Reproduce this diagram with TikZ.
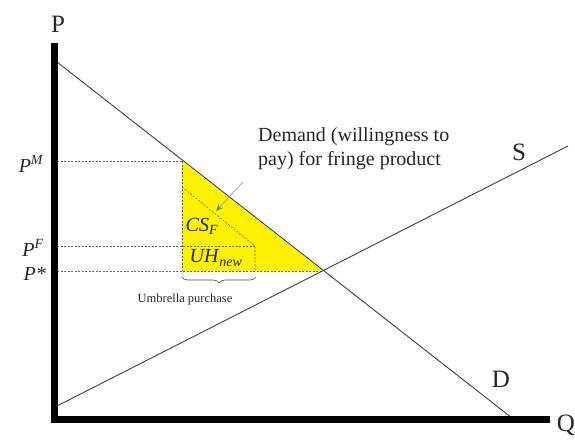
\documentclass[tikz,border=0pt]{standalone}
\usepackage{fontspec}
\setmainfont{Liberation Serif}
\newfontfamily\tnr{Liberation Serif}
\usetikzlibrary{arrows.meta,decorations.pathreplacing}
\begin{document}
\begin{tikzpicture}[x=1pt,y=-1pt,
  axis/.style={line width=7pt,line join=miter},
  curve/.style={line width=0.9pt,draw=black!75},
  guide/.style={draw=black!60,line width=0.6pt,dash pattern=on 2pt off 1.5pt},
  lab/.style={font=\tnr\fontsize{20}{24}\selectfont,inner sep=0pt,text=black!85},
  big/.style={font=\tnr\fontsize{25}{28}\selectfont,inner sep=0pt,text=black!85},
  ]
\useasboundingbox (0,0) rectangle (575,439);
% key points
\coordinate (top) at (54,43);
\coordinate (O) at (54,419);
\coordinate (right) at (550,419);
\coordinate (dA) at (57,62);
\coordinate (dB) at (512,418);
\coordinate (sA) at (57,406);
\coordinate (sB) at (568,146);
\coordinate (E) at (323,271);
\coordinate (M) at (182,161);
\coordinate (Mb) at (182,271);
\coordinate (C1) at (182,187);
\coordinate (C2) at (255,246);
\coordinate (C3) at (255,271);
\coordinate (yM) at (57,161);
\coordinate (yF) at (57,246);
\coordinate (yS) at (57,271);
% yellow area
\fill[yellow] (M) -- (Mb) -- (E) -- cycle;
% guides
\draw[guide] (yM) -- (M);
\draw[guide] (yF) -- (C2);
\draw[guide] (yS) -- (E);
\draw[guide] (M) -- (Mb);
\draw[guide] (C1) -- (C2) -- (C3);
% curves
\draw[curve] (dA) -- (dB);
\draw[curve] (sA) -- (sB);
% axes
\draw[axis] (top) -- (O) -- (right);
% labels
\node[big] (P) at (58,24) {P};
\node[big] (Q) at (566,425) {Q};
\node[big] (S) at (519,152) {S};
\node[big] (D) at (501,379) {D};
\node[lab,anchor=east] (PM) at (44,164) {\textit{P}\textsuperscript{\textit{M}}};
\node[lab,anchor=east] (PF) at (44,248) {\textit{P}\textsuperscript{\textit{F}}};
\node[lab,anchor=east] (Ps) at (46,274) {\textit{P*}};
\node[lab] (CS) at (202,226) {\textit{CS}\textsubscript{\textit{F}}};
\node[lab] (UH) at (216,258) {\textit{UH}\textsubscript{\textit{new}}};
\node[lab,align=left,anchor=north west] (dem) at (258,127) {Demand (willingness to\\pay) for fringe product};
\node[inner sep=0pt,font=\tnr\fontsize{12.5}{14}\selectfont,text=black!85] (umb) at (185,299) {Umbrella purchase};
% arrow
\coordinate (arS) at (243,182);
\coordinate (arE) at (216,211);
\draw[draw=blue!30!gray!60,line width=0.7pt,-{Stealth[length=7pt,width=6pt,color=green!50!black!70]}] (arS) -- (arE);
% brace
\coordinate (bL) at (182,277);
\coordinate (bR) at (256,277);
\draw[draw=black!70,line width=0.6pt,decorate,decoration={brace,mirror,amplitude=6pt}] (bL) -- (bR);
\end{tikzpicture}
\end{document}
